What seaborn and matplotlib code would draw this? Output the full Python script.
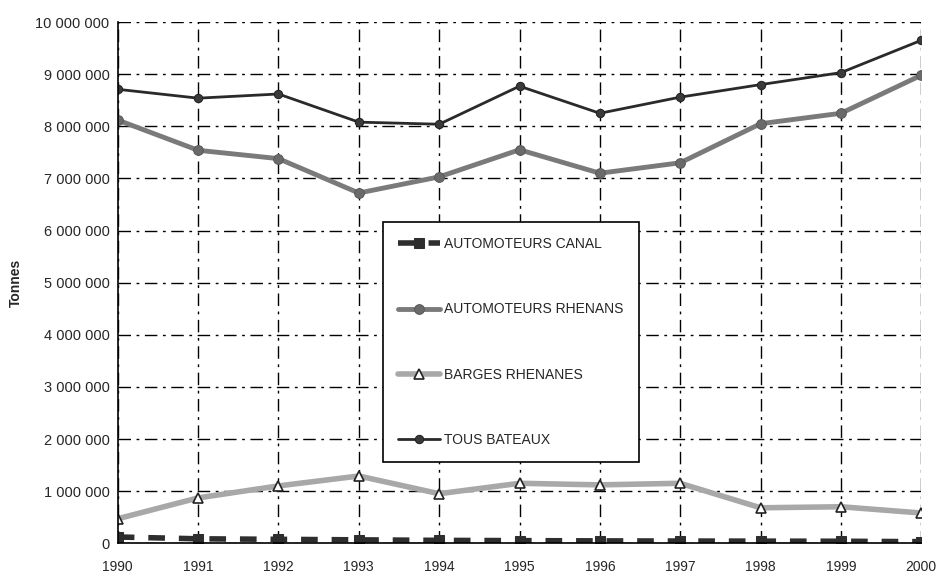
import matplotlib
matplotlib.use("Agg")
import matplotlib.pyplot as plt
import matplotlib.ticker as mticker
import pandas as pd
import seaborn as sns

# values (tonnes)
years = [1990, 1991, 1992, 1993, 1994, 1995, 1996, 1997, 1998, 1999, 2000]
automoteurs_canal = [120000, 85000, 75000, 65000, 55000, 50000, 45000, 42000, 40000, 38000, 30000]
automoteurs_rhenans = [8120000, 7540000, 7380000, 6720000, 7030000, 7550000, 7100000, 7300000, 8050000, 8250000, 8980000]
barges_rhenanes = [470000, 870000, 1100000, 1290000, 950000, 1150000, 1120000, 1150000, 680000, 700000, 580000]
tous_bateaux = [8710000, 8540000, 8620000, 8080000, 8040000, 8770000, 8250000, 8560000, 8800000, 9030000, 9650000]

series_names = ["AUTOMOTEURS CANAL", "AUTOMOTEURS RHENANS", "BARGES RHENANES", "TOUS BATEAUX"]
y_ticks = [0, 1000000, 2000000, 3000000, 4000000, 5000000, 6000000, 7000000, 8000000, 9000000, 10000000]

df = pd.DataFrame({
    "Année": years,
    series_names[0]: automoteurs_canal,
    series_names[1]: automoteurs_rhenans,
    series_names[2]: barges_rhenanes,
    series_names[3]: tous_bateaux,
})

sns.set_style("white")
plt.rcParams["font.family"] = ["Liberation Sans", "DejaVu Sans"]

fig = plt.figure(figsize=(9.42, 5.81), dpi=100)
ax = fig.add_axes([0.125, 0.065, 0.853, 0.897])

# style for each series: colour, width, marker, dashes
styles = {
    "AUTOMOTEURS CANAL": dict(color="#2e2e2e", linewidth=4, marker="s", markersize=7,
                              dashes=(3, 2.5), mfc="#2e2e2e", mec="#2e2e2e"),
    "AUTOMOTEURS RHENANS": dict(color="#7a7a7a", linewidth=3.5, marker="o", markersize=7,
                                mfc="#6a6a6a", mec="#5a5a5a"),
    "BARGES RHENANES": dict(color="#a8a8a8", linewidth=4, marker="^", markersize=7,
                            mfc="white", mec="#222222", mew=1.2),
    "TOUS BATEAUX": dict(color="#2a2a2a", linewidth=2, marker="o", markersize=6,
                         mfc="#3a3a3a", mec="#222222"),
}

for name in series_names:
    st = dict(styles[name])
    dashes = st.pop("dashes", None)
    sns.lineplot(data=df, x="Année", y=name, ax=ax, label=name, **st)
    if dashes is not None:
        ax.lines[-1].set_dashes(dashes)

ax.set_xlim(1990, 2000)
ax.set_ylim(0, 10000000)
ax.set_xticks(years)
ax.set_yticks(y_ticks)
ax.yaxis.set_major_formatter(mticker.FuncFormatter(lambda v, p: f"{int(v):,}".replace(",", " ")))
ax.tick_params(axis="y", labelsize=10.5, length=0, pad=6)
ax.tick_params(axis="x", labelsize=10, length=0, pad=12)

ax.set_xlabel("")
ax.set_ylabel("Tonnes", fontsize=10, fontweight="bold")
ax.yaxis.set_label_coords(-0.118, 0.5)

# dash-dot grid like the scan
ax.grid(True, color="black", linestyle=(0, (9, 4, 2, 4)), linewidth=1)
for side in ["top", "right"]:
    ax.spines[side].set_visible(False)
ax.spines["left"].set_color("black")
ax.spines["left"].set_linewidth(1.2)
ax.spines["bottom"].set_color("black")
ax.spines["bottom"].set_linewidth(1.2)

leg = ax.legend(loc="lower left", bbox_to_anchor=(0.33, 0.155), fontsize=10,
                frameon=True, fancybox=False, framealpha=1, edgecolor="black",
                labelspacing=3.7, borderpad=1.1, handlelength=3.0, handletextpad=0.3,
                borderaxespad=0)
leg.get_frame().set_linewidth(1.2)

fig.savefig("out.png", dpi=100)
